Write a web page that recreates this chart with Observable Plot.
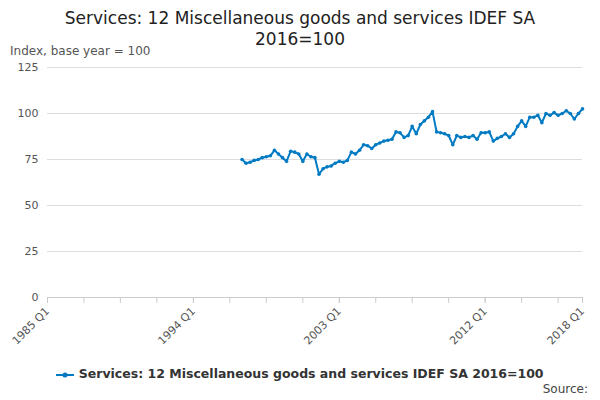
<!DOCTYPE html>
<html><head><meta charset="utf-8">
<script src="https://cdn.jsdelivr.net/npm/d3@7"></script>
<script src="https://cdn.jsdelivr.net/npm/@observablehq/plot@0.6"></script>
<style>
body{margin:0;width:600px;height:400px;font-family:"DejaVu Sans",sans-serif;background:#fff;position:relative;overflow:hidden}
#t{text-align:center;font-size:17px;color:#222;line-height:21px;margin-top:8px}
#s{position:absolute;left:10px;top:44px;font-size:12px;color:#555}
#c{position:absolute;left:0;top:58px}
#lg{position:absolute;top:366px;left:0;width:600px;text-align:center;font-size:12.5px;font-weight:bold;color:#333}
#src{position:absolute;right:12px;top:382px;font-size:12px;color:#444}
</style></head><body>
<div id="t">Services: 12 Miscellaneous goods and services IDEF SA<br>2016=100</div>
<div id="s">Index, base year = 100</div>
<div id="c"></div>
<div id="lg"><svg width="18" height="10" style="vertical-align:middle"><line x1="0" y1="5" x2="18" y2="5" stroke="#007ac3" stroke-width="2"/><circle cx="9" cy="5" r="2.5" fill="#007ac3"/></svg> Services: 12 Miscellaneous goods and services IDEF SA 2016=100</div>
<div id="src">Source:</div>
<script>
const seriesName = "Services: 12 Miscellaneous goods and services IDEF SA 2016=100";
const startYear = 1997;
const values = [75,73,73.5,74.5,75,76,76.5,77,80,78,
76,74,79.5,79,78,74,78,76.5,76,67,
70,71,71.5,73,74,73.5,74.5,79,78,80,
83,82.5,81,83,84,85,85.5,86,90,89.5,
87,88,93,89,94,96,98,101,90,89.5,
89,88,83,88,87,87.5,87,88,86,89.5,
89.5,90,85,86.5,87.5,89,87,89,93,96,
93,98,98,99,95,100,99,100.5,99,100,
101.5,100,97,100,102.5];
const tickLabels = ["1985 Q1","1994 Q1","2003 Q1","2012 Q1","2018 Q1"];
const yTicks = [0,25,50,75,100,125];

const qd = (y,q)=>new Date(Date.UTC(y,(q-1)*3,1));
const parseQ = s=>{const [y,q]=s.split(" Q");return qd(+y,+q);};
const data = values.map((v,i)=>({date:qd(startYear+Math.floor(i/4),i%4+1),value:v}));
const minor = d3.range(0,133,9).map(i=>qd(1985+Math.floor(i/4),i%4+1));
const majors = tickLabels.map(parseQ);
const fmt = d=>`${d.getUTCFullYear()} Q${d.getUTCMonth()/3+1}`;

const chart = Plot.plot({
  width:600,height:292,marginLeft:47,marginRight:18,marginTop:9,marginBottom:53,
  style:{fontFamily:"DejaVu Sans",fontSize:"11px",color:"#555"},
  x:{type:"utc",domain:[parseQ("1985 Q1"),parseQ("2018 Q1")],label:null},
  y:{domain:[0,125],label:null},
  marks:[
    Plot.gridY(yTicks,{stroke:"#ddd",strokeOpacity:1}),
    Plot.ruleY([0],{stroke:"#ccc"}),
    Plot.axisX(minor,{tickSize:6,stroke:"#ccc",tickFormat:()=>""}),
    Plot.axisX(majors,{tickSize:6,stroke:"#ccc",tickFormat:fmt,tickRotate:-45,fill:"#555",fontSize:11}),
    Plot.axisY(yTicks,{tickSize:0,fill:"#555"}),
    Plot.line(data,{x:"date",y:"value",stroke:"#007ac3",strokeWidth:2}),
    Plot.dot(data,{x:"date",y:"value",fill:"#007ac3",r:1.8})
  ]
});
document.getElementById("c").appendChild(chart);
</script></body></html>
